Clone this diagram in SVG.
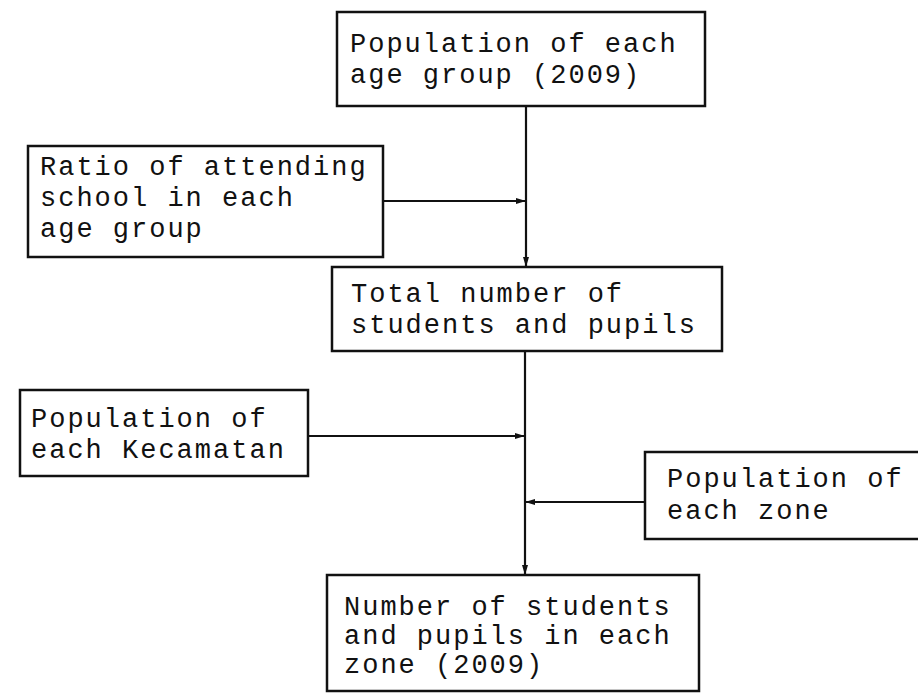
<svg xmlns="http://www.w3.org/2000/svg" width="918" height="693" viewBox="0 0 918 693">
  <style>
    .box { fill: #ffffff; stroke: #111111; stroke-width: 2.5; }
    .lbl { font-family: "Liberation Mono", "DejaVu Sans Mono", monospace; font-size: 27px; letter-spacing: 2px; fill: #111111; }
    .wire { fill: none; stroke: #111111; stroke-width: 2.2; }
  </style>
  <defs>
    <marker id="head" viewBox="0 0 10 6" refX="10" refY="3" markerWidth="10" markerHeight="6" markerUnits="userSpaceOnUse" orient="auto">
      <path d="M0,0 L10,3 L0,6 Z" fill="#111111"/>
    </marker>
  </defs>
  <rect width="918" height="693" fill="#ffffff"/>

  <g id="connectors">
    <line class="wire" x1="526" y1="106" x2="526" y2="267" marker-end="url(#head)"/>
    <line class="wire" x1="383" y1="201" x2="526" y2="201" marker-end="url(#head)"/>
    <line class="wire" x1="525" y1="351" x2="525" y2="575" marker-end="url(#head)"/>
    <line class="wire" x1="308" y1="436" x2="525" y2="436" marker-end="url(#head)"/>
    <line class="wire" x1="645" y1="502" x2="525" y2="502" marker-end="url(#head)"/>
  </g>

  <g id="pop-age-group">
    <rect class="box" x="337" y="12" width="368" height="94"/>
    <text class="lbl" x="350" y="52">Population of each</text>
    <text class="lbl" x="350" y="83">age group (2009)</text>
  </g>

  <g id="attend-ratio">
    <rect class="box" x="28" y="146" width="355" height="111"/>
    <text class="lbl" x="40" y="175">Ratio of attending</text>
    <text class="lbl" x="40" y="206">school in each</text>
    <text class="lbl" x="40" y="237">age group</text>
  </g>

  <g id="total-students">
    <rect class="box" x="332" y="267" width="390" height="84"/>
    <text class="lbl" x="351" y="302">Total number of</text>
    <text class="lbl" x="351" y="333">students and pupils</text>
  </g>

  <g id="pop-kecamatan">
    <rect class="box" x="20" y="390" width="288" height="86"/>
    <text class="lbl" x="31" y="427">Population of</text>
    <text class="lbl" x="31" y="458">each Kecamatan</text>
  </g>

  <g id="pop-zone">
    <rect class="box" x="645" y="452" width="290" height="87"/>
    <text class="lbl" x="667" y="487">Population of</text>
    <text class="lbl" x="667" y="519">each zone</text>
  </g>

  <g id="students-zone">
    <rect class="box" x="327" y="575" width="372" height="116"/>
    <text class="lbl" x="344" y="615">Number of students</text>
    <text class="lbl" x="344" y="644">and pupils in each</text>
    <text class="lbl" x="344" y="673">zone (2009)</text>
  </g>
</svg>
